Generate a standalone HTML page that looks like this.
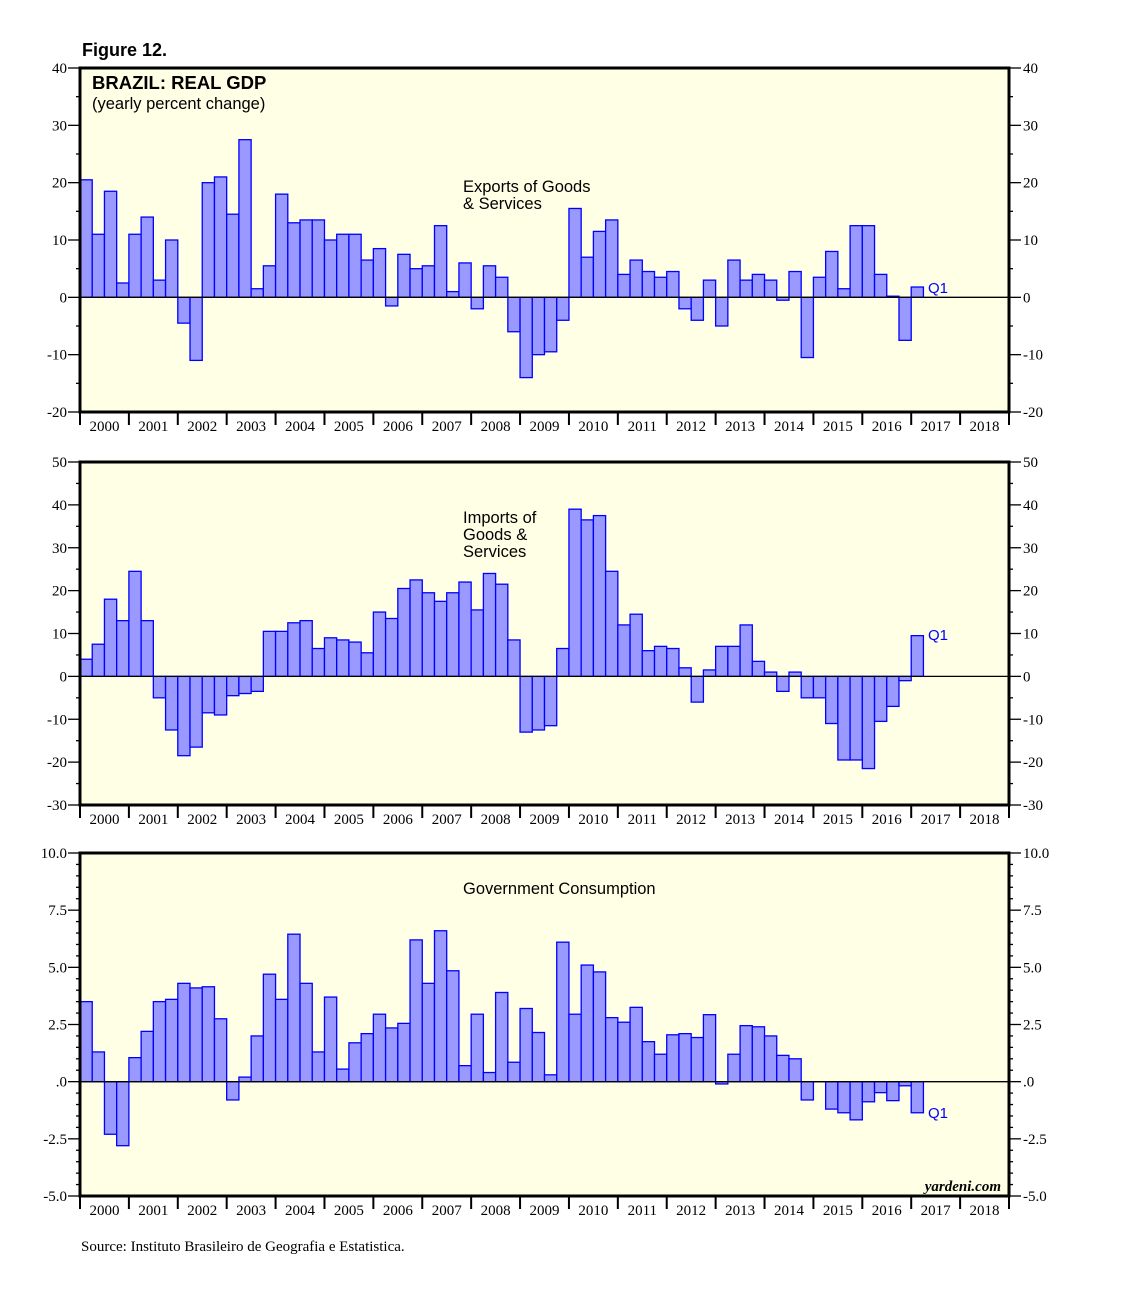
<!DOCTYPE html>
<html><head><meta charset="utf-8"><style>
html,body{margin:0;padding:0;background:#fff;}
svg{display:block;}
.ax{font-family:"Liberation Serif",serif;font-size:15px;fill:#000;}
.ann{font-family:"Liberation Sans",sans-serif;font-size:16.5px;fill:#000;}
</style></head><body>
<svg id="s" width="1138" height="1293" xmlns="http://www.w3.org/2000/svg">
<text x="82" y="56" font-family="Liberation Sans,sans-serif" font-weight="bold" font-size="18">Figure 12.</text>
</svg>
<script>
var NS="http://www.w3.org/2000/svg",S=document.getElementById("s");
function el(t,a,txt){var e=document.createElementNS(NS,t);for(var k in a)e.setAttribute(k,a[k]);if(txt!=null)e.textContent=txt;S.appendChild(e);return e;}
var X0=80,X1=1009,YW=(X1-X0)/19,BW=YW/4;
var exp=[20.5,11,18.5,2.5, 11,14,3,10, -4.5,-11,20,21, 14.5,27.5,1.5,5.5, 18,13,13.5,13.5, 10,11,11,6.5, 8.5,-1.5,7.5,5, 5.5,12.5,1,6, -2,5.5,3.5,-6, -14,-10,-9.5,-4, 15.5,7,11.5,13.5, 4,6.5,4.5,3.5, 4.5,-2,-4,3, -5,6.5,3,4, 3,-0.5,4.5,-10.5, 3.5,8,1.5,12.5, 12.5,4,0.2,-7.5, 1.8];
var imp=[4,7.5,18,13, 24.5,13,-5,-12.5, -18.5,-16.5,-8.5,-9, -4.5,-4,-3.5,10.5, 10.5,12.5,13,6.5, 9,8.5,8,5.5, 15,13.5,20.5,22.5, 19.5,17.5,19.5,22, 15.5,24,21.5,8.5, -13,-12.5,-11.5,6.5, 39,36.5,37.5,24.5, 12,14.5,6,7, 6.5,2,-6,1.5, 7,7,12,3.5, 1,-3.5,1,-5, -5,-11,-19.5,-19.5, -21.5,-10.5,-7,-1, 9.5];
var gov=[3.5,1.3,-2.3,-2.8, 1.05,2.2,3.5,3.6, 4.3,4.1,4.15,2.75, -0.8,0.2,2,4.7, 3.6,6.45,4.3,1.3, 3.7,0.55,1.7,2.1, 2.95,2.35,2.55,6.2, 4.3,6.6,4.85,0.7, 2.95,0.4,3.9,0.85, 3.2,2.15,0.3,6.1, 2.95,5.1,4.8,2.8, 2.6,3.25,1.75,1.2, 2.05,2.1,1.93,2.93,-0.1,1.2,2.45,2.4,2.0,1.15,1.0,-0.8,0,-1.2,-1.36,-1.67,-0.88,-0.48,-0.83,-0.18,-1.36];
function panel(top,bot,vmin,vmax,major,minor,data,fmt,q1y){
 var sc=(bot-top)/(vmax-vmin);function Y(v){return top+(vmax-v)*sc;}
 el("rect",{x:X0,y:top,width:X1-X0,height:bot-top,fill:"#ffffe6"});
 for(var i=0;i<data.length;i++){var v=data[i],y0=Y(0),y1=Y(v);
  el("rect",{x:X0+i*BW,y:Math.min(y0,y1),width:BW,height:Math.max(Math.abs(y1-y0),0.01),fill:"#9999ff",stroke:"#0000ff","stroke-width":1.3});}
 el("line",{x1:X0,x2:X1,y1:Y(0),y2:Y(0),stroke:"#000","stroke-width":1.3});
 var n=Math.round((vmax-vmin)/minor);
 for(var k=0;k<=n;k++){var v=vmin+k*minor,y=Y(v),isM=Math.abs(v/major-Math.round(v/major))<1e-6;
  var L=isM?12:4;
  el("line",{x1:X0-L,x2:X0,y1:y,y2:y,stroke:"#000","stroke-width":1.3});
  el("line",{x1:X1,x2:X1+L,y1:y,y2:y,stroke:"#000","stroke-width":1.3});
  if(isM){var t=fmt(v);
   el("text",{x:X0-13,y:y+5,"text-anchor":"end","class":"ax"},t);
   el("text",{x:X1+14,y:y+5,"class":"ax"},t);}}
 el("rect",{x:X0,y:top,width:X1-X0,height:bot-top,fill:"none",stroke:"#000","stroke-width":3});
 for(var j=0;j<=19;j++){var x=X0+j*YW;el("line",{x1:x,x2:x,y1:bot,y2:bot+13,stroke:"#000","stroke-width":2});
  if(j<19)el("text",{x:x+YW/2,y:bot+19,"text-anchor":"middle","class":"ax"},String(2000+j));}
 el("text",{x:928,y:q1y,"font-family":"Liberation Sans,sans-serif","font-size":15,fill:"#0000ff"},"Q1");
}
panel(68,412,-20,40,10,5,exp,function(v){return String(v);},293);
panel(462,805,-30,50,10,5,imp,function(v){return String(v);},640);
panel(853,1196,-5,10,2.5,0.5,gov,function(v){var s=v.toFixed(1);if(s=="0.0")return ".0";return s;},1118);
el("text",{x:92,y:89,"font-family":"Liberation Sans,sans-serif","font-weight":"bold","font-size":18.5},"BRAZIL: REAL GDP");
el("text",{x:92,y:109,"class":"ann"},"(yearly percent change)");
el("text",{x:463,y:192,"class":"ann"},"Exports of Goods");
el("text",{x:463,y:209,"class":"ann"},"& Services");
el("text",{x:463,y:523,"class":"ann"},"Imports of");
el("text",{x:463,y:540,"class":"ann"},"Goods &");
el("text",{x:463,y:557,"class":"ann"},"Services");
el("text",{x:463,y:894,"class":"ann"},"Government Consumption");
el("text",{x:1001,y:1191,"text-anchor":"end","font-family":"Liberation Serif,serif","font-style":"italic","font-weight":"bold","font-size":15},"yardeni.com");
el("text",{x:81,y:1251,"font-family":"Liberation Serif,serif","font-size":15},"Source: Instituto Brasileiro de Geografia e Estatistica.");
</script>
</body></html>
